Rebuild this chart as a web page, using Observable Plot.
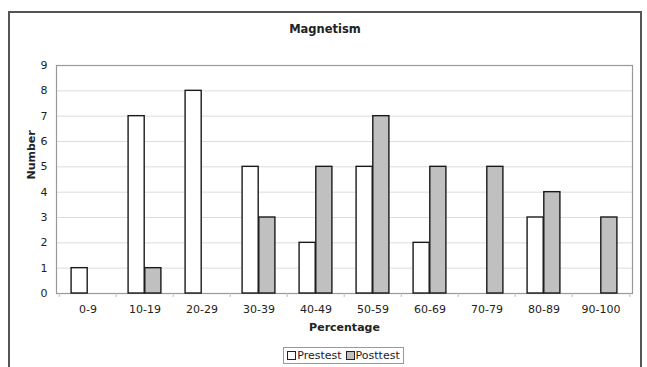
<!DOCTYPE html>
<html>
<head>
<meta charset="utf-8">
<script src="https://cdn.jsdelivr.net/npm/d3@7"></script>
<script src="https://cdn.jsdelivr.net/npm/@observablehq/plot@0.6"></script>
<style>
  html, body { margin: 0; padding: 0; background: #fff; }
  body { width: 647px; height: 367px; overflow: hidden; font-family: "DejaVu Sans", Verdana, sans-serif; color: #222; }
  #wrap { position: relative; width: 647px; height: 367px; }
  #border { position: absolute; left: 8px; top: 11px; width: 630px; height: 380px; border: 2px solid #555; box-sizing: content-box; }
  #title { position: absolute; left: 8px; width: 634px; top: 22px; text-align: center; font-weight: bold; font-size: 11.5px; }
  #chart { position: absolute; left: 0; top: 40px; }
  #legend { position: absolute; left: 283px; top: 347px; width: 121px; height: 17px; border: 1px solid #999; box-sizing: border-box;
            font-size: 11px; display: flex; align-items: center; justify-content: center; gap: 4px; white-space: nowrap; }
  .sw { display: inline-block; width: 7px; height: 7px; border: 1px solid #222; margin-right: 1px; vertical-align: middle; }
  .item { display: inline-flex; align-items: center; }
</style>
</head>
<body>
<div id="wrap">
  <div id="border"></div>
  <div id="title"></div>
  <div id="chart"></div>
  <div id="legend"></div>
</div>
<script>
const title = "Magnetism";
const categories = ["0-9", "10-19", "20-29", "30-39", "40-49", "50-59", "60-69", "70-79", "80-89", "90-100"];
const seriesNames = ["Prestest", "Posttest"];
const prestest = [1, 7, 8, 5, 2, 5, 2, 0, 3, 0];
const posttest = [0, 1, 0, 3, 5, 7, 5, 5, 4, 3];
const yTicks = [0, 1, 2, 3, 4, 5, 6, 7, 8, 9];
const xLabel = "Percentage";
const yLabel = "Number";
const colors = ["#ffffff", "#c0c0c0"];

document.getElementById("title").textContent = title;

const pre = categories.map((c, i) => ({category: c, value: prestest[i]})).filter(d => d.value > 0);
const post = categories.map((c, i) => ({category: c, value: posttest[i]})).filter(d => d.value > 0);

const W = 647, mL = 56, mR = 15;
const bw = (W - mL - mR) / categories.length;

const chart = Plot.plot({
  width: W,
  height: 300,
  marginLeft: mL,
  marginRight: mR,
  marginTop: 25,
  marginBottom: 47,
  style: {fontFamily: "DejaVu Sans, Verdana, sans-serif", fontSize: "11px", color: "#222", background: "transparent"},
  x: {type: "band", domain: categories, padding: 0, label: null},
  y: {domain: [0, 9], label: null},
  marks: [
    Plot.gridY(yTicks.slice(1, -1), {stroke: "#dcdcdc", strokeOpacity: 1}),
    Plot.frame({stroke: "#999", strokeWidth: 1.2}),
    Plot.ruleX(categories, {x: d => d, y1: 0, y2: 0, dx: -bw / 2, insetBottom: -4, stroke: "#bbb"}),
    Plot.ruleX(categories.slice(-1), {x: d => d, y1: 0, y2: 0, dx: bw / 2, insetBottom: -4, stroke: "#bbb"}),
    Plot.barY(pre, {x: "category", y: "value", fill: colors[0], stroke: "#1a1a1a", strokeWidth: 1.4,
      insetLeft: bw * 0.21, insetRight: bw / 2}),
    Plot.barY(post, {x: "category", y: "value", fill: colors[1], stroke: "#1a1a1a", strokeWidth: 1.4,
      insetLeft: bw / 2, insetRight: bw * 0.21}),
    Plot.axisY(yTicks, {tickSize: 0, tickPadding: 9, fontSize: 11, label: null}),
    Plot.axisX({tickSize: 0, tickPadding: 12, fontSize: 11, label: null}),
    Plot.text([xLabel], {frameAnchor: "bottom", text: d => d, dy: 37, fontWeight: "bold", fontSize: 11}),
    Plot.text([yLabel], {frameAnchor: "left", text: d => d, rotate: -90, dx: -25, fontWeight: "bold", fontSize: 11})
  ]
});
document.getElementById("chart").appendChild(chart);

const legend = document.getElementById("legend");
seriesNames.forEach((name, i) => {
  const item = document.createElement("span");
  item.className = "item";
  const sw = document.createElement("span");
  sw.className = "sw";
  sw.style.background = colors[i];
  item.appendChild(sw);
  item.appendChild(document.createTextNode(name));
  legend.appendChild(item);
});
</script>
</body>
</html>
